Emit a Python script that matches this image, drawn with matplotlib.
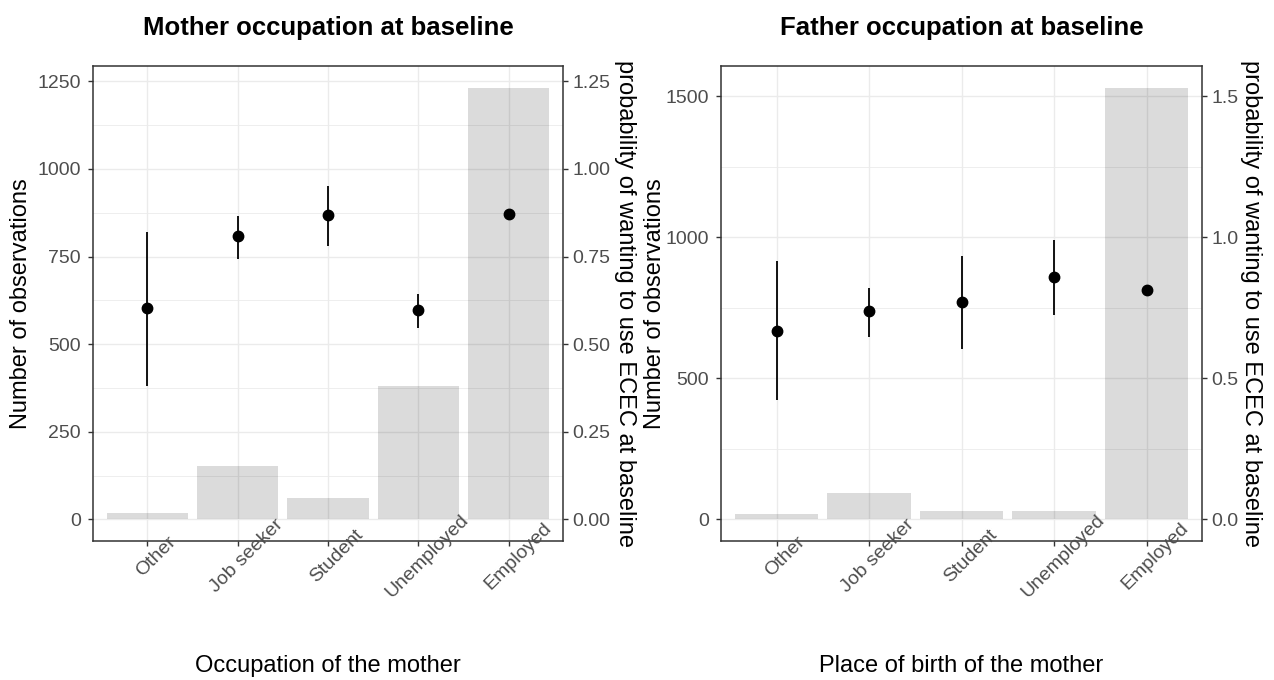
"""Bars of observation counts with the probability of wanting ECEC, by parent occupation."""

import matplotlib as mpl
from matplotlib import pyplot as plt
from matplotlib.ticker import FormatStrFormatter, MultipleLocator

mpl.use("Agg")

plt.rcParams["font.family"] = ["Liberation Sans", "DejaVu Sans"]

CATEGORIES = ["Other", "Job seeker", "Student", "Unemployed", "Employed"]

MOTHER_COUNTS = [18, 153, 60, 382, 1232]
MOTHER_PROB = [0.602, 0.808, 0.868, 0.598, 0.872]
MOTHER_LOW = [0.380, 0.742, 0.780, 0.547, 0.864]
MOTHER_HIGH = [0.820, 0.867, 0.951, 0.644, 0.880]

FATHER_COUNTS = [19, 94, 30, 30, 1531]
FATHER_PROB = [0.668, 0.738, 0.772, 0.859, 0.812]
FATHER_LOW = [0.425, 0.645, 0.605, 0.725, 0.802]
FATHER_HIGH = [0.916, 0.822, 0.933, 0.992, 0.822]

# secondary axis in ggplot was sec_axis(~ . / 1000)
PROB_SCALE = 1000.0

FIG_W, FIG_H = 1274, 680
TICK_COLOR = "#4D4D4D"
BORDER_COLOR = "#333333"
GRID_COLOR = "#EBEBEB"


def px_rect(left, right, top, bottom):
    return [left / FIG_W, 1 - bottom / FIG_H, (right - left) / FIG_W, (bottom - top) / FIG_H]


def draw_panel(fig, box, counts, prob, low, high, *, title, xlabel,
               count_step, prob_step, prob_fmt, left_label_x, right_label_x):
    left, right, top, bottom = box
    ax = fig.add_axes(px_rect(left, right, top, bottom))
    positions = list(range(len(CATEGORIES)))

    ax.bar(positions, counts, width=0.9, color="black", alpha=0.14, linewidth=0, zorder=2)

    hi = max(max(counts), max(high) * PROB_SCALE)
    pad = 0.05 * hi
    ax.set_ylim(-pad, hi + pad)
    ax.set_xlim(-0.6, len(CATEGORIES) - 0.4)

    ax.yaxis.set_major_locator(MultipleLocator(count_step))
    ax.yaxis.set_minor_locator(MultipleLocator(count_step / 2))
    ax.set_xticks(positions)
    ax.set_xticklabels([])
    # rotated category labels, nudged like ggplot's angle = 45
    for pos, name in zip(positions, CATEGORIES):
        ax.annotate(name, (pos, 0), xycoords=ax.get_xaxis_transform(),
                    xytext=(6.5, -11), textcoords="offset points",
                    rotation=45, ha="center", va="center",
                    fontsize=14, color=TICK_COLOR)

    ax.set_axisbelow(True)
    ax.grid(which="major", color=GRID_COLOR, linewidth=1.0)
    ax.grid(which="minor", axis="y", color=GRID_COLOR, linewidth=0.6)
    ax.tick_params(axis="y", which="major", length=3.6, width=1.0, color=BORDER_COLOR,
                   labelsize=14, labelcolor=TICK_COLOR, pad=5)
    ax.tick_params(axis="x", which="major", length=3.6, width=1.0, color=BORDER_COLOR)
    ax.tick_params(which="minor", length=0)
    for spine in ax.spines.values():
        spine.set_color(BORDER_COLOR)
        spine.set_linewidth(1.1)

    twin = ax.twinx()
    twin.set_ylim(-pad / PROB_SCALE, (hi + pad) / PROB_SCALE)
    twin.vlines(positions, low, high, color="black", linewidth=1.3, zorder=3)
    twin.plot(positions, prob, "o", color="black", markersize=7.5, zorder=4)
    twin.yaxis.set_major_locator(MultipleLocator(prob_step))
    twin.yaxis.set_major_formatter(FormatStrFormatter(prob_fmt))
    twin.tick_params(axis="y", length=3.6, width=1.0, color=BORDER_COLOR,
                     labelsize=14, labelcolor=TICK_COLOR, pad=3)
    for spine in twin.spines.values():
        spine.set_visible(False)

    centre_x = (left + right) / 2 / FIG_W
    fig.text(centre_x, 1 - 35 / FIG_H, title, ha="center", va="baseline",
             fontsize=18.5, fontweight="bold")
    fig.text(centre_x, 1 - 672 / FIG_H, xlabel, ha="center", va="baseline", fontsize=17)
    mid_y = 1 - (top + bottom) / 2 / FIG_H
    fig.text(left_label_x / FIG_W, mid_y, "Number of observations",
             rotation=90, ha="center", va="center", fontsize=17)
    fig.text(right_label_x / FIG_W, mid_y, "probability of wanting to use ECEC at baseline",
             rotation=270, ha="center", va="center", fontsize=17)


fig = plt.figure(figsize=(FIG_W / 100, FIG_H / 100), dpi=100)

draw_panel(fig, (93, 563, 66, 541), MOTHER_COUNTS, MOTHER_PROB, MOTHER_LOW, MOTHER_HIGH,
           title="Mother occupation at baseline", xlabel="Occupation of the mother",
           count_step=250, prob_step=0.25, prob_fmt="%.2f",
           left_label_x=21, right_label_x=625)
draw_panel(fig, (721, 1202, 66, 541), FATHER_COUNTS, FATHER_PROB, FATHER_LOW, FATHER_HIGH,
           title="Father occupation at baseline", xlabel="Place of birth of the mother",
           count_step=500, prob_step=0.5, prob_fmt="%.1f",
           left_label_x=655, right_label_x=1251)

fig.savefig("out.png", dpi=100)
plt.close(fig)
